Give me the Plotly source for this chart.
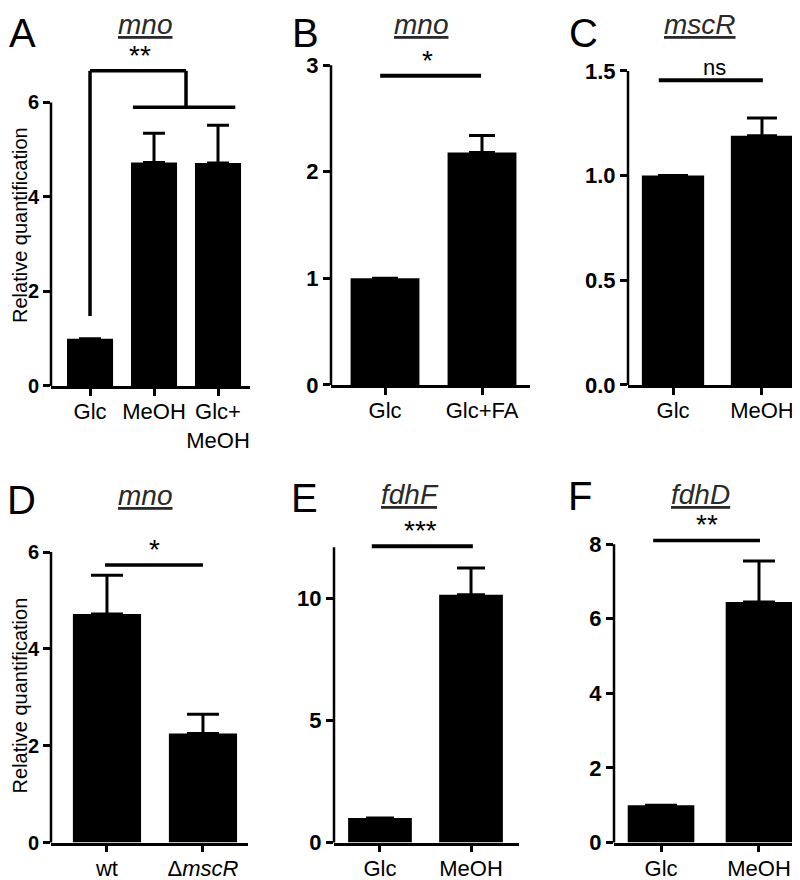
import plotly.graph_objects as go

# ---------------- data ----------------
A_cats = ["Glc", "MeOH", "Glc+<br>MeOH"]
A_vals = [1.0, 4.73, 4.72]
A_err = [None, 0.62, 0.80]

B_cats = ["Glc", "Glc+FA"]
B_vals = [1.0, 2.18]
B_err = [None, 0.16]

C_cats = ["Glc", "MeOH"]
C_vals = [1.0, 1.19]
C_err = [None, 0.085]

D_cats = ["wt", "Δ<i>mscR</i>"]
D_vals = [4.72, 2.25]
D_err = [0.80, 0.40]

E_cats = ["Glc", "MeOH"]
E_vals = [1.0, 10.15]
E_err = [None, 1.1]

F_cats = ["Glc", "MeOH"]
F_vals = [1.0, 6.45]
F_err = [None, 1.1]

A_ticks = [0, 2, 4, 6]
B_ticks = [0, 1, 2, 3]
C_ticks = [0.0, 0.5, 1.0, 1.5]
D_ticks = [0, 2, 4, 6]
E_ticks = [0, 5, 10]
F_ticks = [0, 2, 4, 6, 8]

Y_TITLE = "Relative quantification"

W, H = 800, 880
FONT = "Liberation Sans, Arial, sans-serif"
NARROW = "Liberation Sans Narrow, Arial Narrow, Liberation Sans, Arial, sans-serif"

panels = [
    dict(letter="A", gene="mno", cats=A_cats, vals=A_vals, err=A_err, ticks=A_ticks, fmt="d",
         left=43, right=242, zero=383, ppu=48.0, xr=[-0.61, 2.5], ymax=6.9, atop=6, tfs=20,
         bw=0.72, cap=11, lx=14, ly=None, tx=137, ty=16),
    dict(letter="B", gene="mno", cats=B_cats, vals=B_vals, err=B_err, ticks=B_ticks, fmt="d",
         left=323, right=522, zero=382, ppu=108.3, xr=[-0.557, 1.495], ymax=3.1, atop=3, tfs=22,
         bw=0.71, cap=13, lx=297, ly=None, tx=413, ty=16),
    dict(letter="C", gene="mscR", cats=C_cats, vals=C_vals, err=C_err, ticks=C_ticks, fmt=".1f",
         left=620, right=799, zero=382, ppu=212.7, xr=[-0.506, 1.506], ymax=1.6, atop=1.5, tfs=22,
         bw=0.70, cap=15, lx=575, ly=None, tx=692, ty=16),
    dict(letter="D", gene="mno", cats=D_cats, vals=D_vals, err=D_err, ticks=D_ticks, fmt="d",
         left=43, right=240, zero=847, ppu=49.2, xr=[-0.583, 1.469], ymax=6.3, atop=6, tfs=20,
         bw=0.71, cap=16, lx=13, ly=499, tx=137, ty=494),
    dict(letter="E", gene="fdhF", cats=E_cats, vals=E_vals, err=E_err, ticks=E_ticks, fmt="d",
         left=326, right=511, zero=847, ppu=24.8, xr=[-0.505, 1.527], ymax=12.6, atop=12.1, tfs=22,
         bw=0.70, cap=14, lx=296, ly=497, tx=402, ty=493),
    dict(letter="F", gene="fdhD", cats=F_cats, vals=F_vals, err=F_err, ticks=F_ticks, fmt="d",
         left=606, right=799, zero=847, ppu=37.9, xr=[-0.48, 1.49], ymax=8.4, atop=8, tfs=22,
         bw=0.68, cap=16, lx=572, ly=495, tx=692, ty=493),
]

sig = {
    "A": dict(lines=[[(0, 1.48), (0, 6.67), (1.5, 6.67), (1.5, 5.9)], [(0.67, 5.9), (2.27, 5.9)]],
              text="**", tx=0.78, ty=6.67, lw=3.5),
    "B": dict(lines=[[(-0.05, 2.9), (0.99, 2.9)]], text="*", tx=0.44, ty=2.9, lw=4),
    "C": dict(lines=[[(-0.16, 1.455), (1.01, 1.455)]], text="ns", tx=0.47, ty=1.455, lw=4),
    "D": dict(lines=[[(-0.02, 5.73), (1.0, 5.73)]], text="*", tx=0.5, ty=5.73, lw=3.5),
    "E": dict(lines=[[(-0.09, 12.14), (1.02, 12.14)]], text="***", tx=0.45, ty=12.14, lw=4),
    "F": dict(lines=[[(-0.08, 8.1), (1.01, 8.1)]], text="**", tx=0.47, ty=8.1, lw=3.5),
}

fig = go.Figure()
shapes = []
annotations = []
layout = {}

for i, p in enumerate(panels):
    n = "" if i == 0 else str(i + 1)
    xa, ya = "x" + n, "y" + n
    top_px = p["zero"] - p["ymax"] * p["ppu"]
    xdom = [p["left"] / W, p["right"] / W]
    ydom = [1 - p["zero"] / H, 1 - top_px / H]

    fig.add_trace(go.Bar(
        x=p["cats"], y=p["vals"], xaxis=xa, yaxis=ya, width=p["bw"],
        marker=dict(color="black", line=dict(width=0)),
        error_y=dict(type="data", array=p["err"],
                     arrayminus=[None if e is None else 0 for e in p["err"]],
                     symmetric=False, color="black", thickness=3, width=p["cap"]),
        showlegend=False, hoverinfo="skip",
    ))

    layout["xaxis" + n] = dict(
        domain=xdom, anchor=ya, type="category", range=p["xr"],
        showline=True, linecolor="black", linewidth=2.5,
        ticks="outside", ticklen=7, tickwidth=2.5, tickcolor="black", tickangle=0,
        ticklabelstandoff=-3,
        tickfont=dict(family=FONT, size=22, color="black"),
        showgrid=False, zeroline=False, fixedrange=True,
    )
    layout["yaxis" + n] = dict(
        domain=ydom, anchor=xa, range=[0, p["ymax"]],
        showline=False, tickvals=p["ticks"], tickformat=p["fmt"],
        ticks="outside", ticklen=7, tickwidth=2.5, tickcolor="black",
        tickfont=dict(family=NARROW, size=p["tfs"], color="black", weight="bold"),
        showgrid=False, zeroline=False, fixedrange=True,
    )

    shapes.append(dict(type="line", xref=xa + " domain", yref=ya + " domain",
                       x0=0, x1=0, y0=0, y1=p["atop"] / p["ymax"],
                       line=dict(color="black", width=2.5)))

    s = sig[p["letter"]]
    for seg in s["lines"]:
        for (x0, y0), (x1, y1) in zip(seg[:-1], seg[1:]):
            shapes.append(dict(type="line", xref=xa, yref=ya, x0=x0, y0=y0, x1=x1, y1=y1,
                               line=dict(color="black", width=s["lw"])))
    annotations.append(dict(
        xref=xa, yref=ya, x=s["tx"], y=s["ty"], text=s["text"], showarrow=False,
        xanchor="center", yanchor="bottom", yshift=-2,
        font=dict(family=FONT, size=28 if "*" in s["text"] else 22, color="black"),
    ))

    if p["ly"] is None:
        annotations.append(dict(xref="paper", yref="paper", x=p["lx"] / W, y=1,
                                text=p["letter"], showarrow=False, xanchor="center", yanchor="top",
                                font=dict(family=FONT, size=40, color="black")))
    else:
        annotations.append(dict(xref="paper", yref="paper", x=p["lx"] / W, y=1 - p["ly"] / H,
                                text=p["letter"], showarrow=False, xanchor="center", yanchor="middle",
                                font=dict(family=FONT, size=40, color="black")))
    annotations.append(dict(xref="paper", yref="paper", x=p["tx"] / W, y=1 - p["ty"] / H,
                            text="<i><u>" + p["gene"] + "</u></i>", showarrow=False,
                            xanchor="center", yanchor="middle",
                            font=dict(family=FONT, size=28, color="#2a2a2a")))

for yc in (220, 698):
    annotations.append(dict(xref="paper", yref="paper", x=11.5 / W, y=1 - yc / H,
                            text=Y_TITLE, textangle=-90, showarrow=False,
                            xanchor="center", yanchor="middle", borderpad=0,
                            font=dict(family=FONT, size=20, color="black")))

fig.update_layout(
    width=W, height=H, margin=dict(l=0, r=0, t=0, b=0),
    paper_bgcolor="white", plot_bgcolor="white",
    shapes=shapes, annotations=annotations, showlegend=False,
    font=dict(family=FONT, color="black"),
    **layout,
)
fig.write_html("out.html")
